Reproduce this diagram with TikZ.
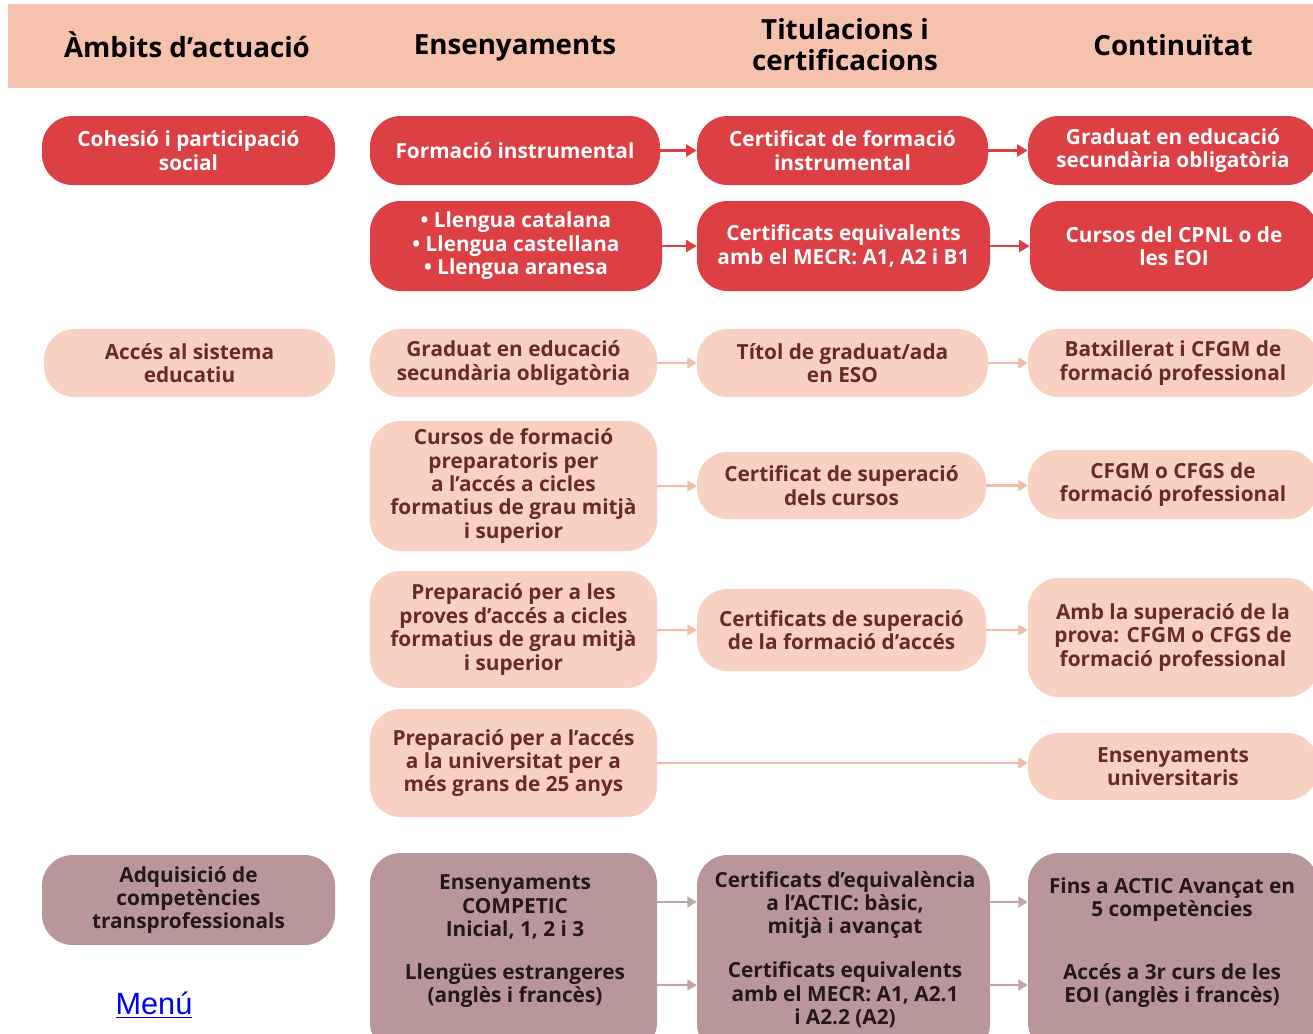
\documentclass[tikz,border=0pt]{standalone}
\usepackage{fontspec}
\setmainfont{Open Sans}
\newfontfamily\linkfont{Liberation Sans}
\usetikzlibrary{arrows.meta}
\definecolor{hdr}{HTML}{F6C2AE}
\definecolor{redf}{HTML}{DC3F44}
\definecolor{lightf}{HTML}{F9D1C3}
\definecolor{lighttxt}{HTML}{6A2A2B}
\definecolor{lightarr}{HTML}{F3BCA9}
\definecolor{mauvef}{HTML}{B99699}
\definecolor{mauvetxt}{HTML}{24181A}
\definecolor{mauvearr}{HTML}{C2A3A6}
\definecolor{linkblue}{HTML}{0000EE}
\begin{document}
\begin{tikzpicture}[x=0.75pt,y=-0.75pt,
  wh/.style 2 args={minimum width=#1*0.75pt, minimum height=#2*0.75pt},
  boxbase/.style={rounded corners=23pt, inner sep=0pt, align=center,
    font=\bfseries\fontsize{15.6}{17.6}\selectfont},
  redbox/.style={boxbase, fill=redf, text=white},
  lightbox/.style={boxbase, fill=lightf, text=lighttxt},
  mauvebox/.style={boxbase, fill=mauvef, text=mauvetxt},
  mtext/.style={align=center, inner sep=0pt, text=mauvetxt,
    font=\bfseries\fontsize{15.6}{17.6}\selectfont},
  hdrtext/.style={align=center, inner sep=0pt,
    font=\bfseries\fontsize{20.8}{23.2}\selectfont},
  redarrow/.style={draw=redf, line width=2.2pt, -{Triangle[length=8pt,width=9pt]}},
  lightarrow/.style={draw=lightarr, line width=1.6pt, -{Triangle[length=7pt,width=8pt]}},
  mauvearrow/.style={draw=mauvearr, line width=1.6pt, -{Triangle[length=7pt,width=8pt]}}
]
\useasboundingbox (0,0) rectangle (1313,1033);
\clip (0,0) rectangle (1313,1033);
\fill[white] (0,0) rectangle (1313,1033);

% header band
\fill[hdr] (8,4) rectangle (1313,88);
\node[hdrtext] (h1) at (187,45) {Àmbits d’actuació};
\node[hdrtext] (h2) at (515,47.5) {Ensenyaments};
\node[hdrtext] (h3) at (845,45) {Titulacions i\\certificacions};
\node[hdrtext] (h4) at (1173,45) {Continuïtat};

% row 1
\node[redbox, wh={293}{69}] (c1r1) at (188.5,150.5) {Cohesió i participació\\social};
\node[redbox, wh={290}{69}] (c2r1) at (515,150.5) {Formació instrumental};
\node[redbox, wh={291}{69}] (c3r1) at (842.5,150.5) {Certificat de formació\\instrumental};
\node[redbox, wh={290}{69}] (c4r1) at (1173,150.5) {Graduat en educació\\secundària obligatòria};
% row 2
\node[redbox, wh={292}{90}] (c2r2) at (516,246) {• Llengua catalana\\• Llengua castellana\\• Llengua aranesa};
\node[redbox, wh={293}{90}] (c3r2) at (843.5,246) {Certificats equivalents\\amb el MECR: A1, A2 i B1};
\node[redbox, wh={288}{90}] (c4r2) at (1174,246) {Cursos del CPNL o de\\les EOI};

% row 3
\node[lightbox, wh={291}{68}] (c1r3) at (189.5,363) {Accés al sistema\\educatiu};
\node[lightbox, wh={287}{68}] (c2r3) at (513.5,363) {Graduat en educació\\secundària obligatòria};
\node[lightbox, wh={291}{68}] (c3r3) at (842.5,363) {Títol de graduat/ada\\en ESO};
\node[lightbox, wh={290}{68}] (c4r3) at (1173,363) {Batxillerat i CFGM de\\formació professional};
% row 4
\node[lightbox, wh={287}{130}] (c2r4) at (513.5,486) {Cursos de formació\\preparatoris per\\a l’accés a cicles\\formatius de grau mitjà\\i superior};
\node[lightbox, wh={289}{67}] (c3r4) at (841.5,485.5) {Certificat de superació\\dels cursos};
\node[lightbox, wh={290}{69}] (c4r4) at (1173,484.5) {CFGM o CFGS de\\formació professional};
% row 5
\node[lightbox, wh={287}{117}] (c2r5) at (513.5,629.5) {Preparació per a les\\proves d’accés a cicles\\formatius de grau mitjà\\i superior};
\node[lightbox, wh={289}{82}] (c3r5) at (841.5,630) {Certificats de superació\\de la formació d’accés};
\node[lightbox, wh={290}{119}] (c4r5) at (1173,637.5) {Amb la superació de la\\prova: CFGM o CFGS de\\formació professional};
% row 6
\node[lightbox, wh={287}{108}] (c2r6) at (513.5,763) {Preparació per a l’accés\\a la universitat per a\\més grans de 25 anys};
\node[lightbox, wh={290}{67}] (c4r6) at (1173,766.5) {Ensenyaments\\universitaris};

% row 7
\node[mauvebox, wh={293}{90}] (c1r7) at (188.5,900) {Adquisició de\\competències\\transprofessionals};
\node[mauvebox, wh={287}{200}] (c2r7) at (513.5,953) {};
\node[mauvebox, wh={293}{200}] (c3r7) at (843.5,955) {};
\node[mauvebox, wh={290}{200}] (c4r7) at (1173,953) {};
\node[mtext] (t2a) at (515,907) {Ensenyaments\\COMPETIC\\Inicial, 1, 2 i 3};
\node[mtext] (t2b) at (515,985.5) {Llengües estrangeres\\(anglès i francès)};
\node[mtext] (t3a) at (845,905) {Certificats d’equivalència\\a l’ACTIC: bàsic,\\mitjà i avançat};
\node[mtext] (t3b) at (845,995) {Certificats equivalents\\amb el MECR: A1, A2.1\\i A2.2 (A2)};
\node[mtext] (t4a) at (1172,899.5) {Fins a ACTIC Avançat en\\5 competències};
\node[mtext] (t4b) at (1172,985.5) {Accés a 3r curs de les\\EOI (anglès i francès)};
\coordinate (ya) at (0,902);
\coordinate (yb) at (0,985);

% arrows
\draw[redarrow] (c2r1.east) -- (c3r1.west);
\draw[redarrow] (c3r1.east) -- (c4r1.west);
\draw[redarrow] (c2r2.east) -- (c3r2.west);
\draw[redarrow] (c3r2.east) -- (c4r2.west);
\draw[lightarrow] (c2r3.east) -- (c3r3.west);
\draw[lightarrow] (c3r3.east) -- (c4r3.west);
\draw[lightarrow] (c2r4.east) -- (c3r4.west |- c2r4.east);
\draw[lightarrow] (c3r4.east) -- (c4r4.west |- c3r4.east);
\draw[lightarrow] (c2r5.east |- c3r5.west) -- (c3r5.west);
\draw[lightarrow] (c3r5.east) -- (c4r5.west |- c3r5.east);
\draw[lightarrow] (c2r6.east) -- (c4r6.west |- c2r6.east);
\draw[mauvearrow] (c2r7.east |- ya) -- (c3r7.west |- ya);
\draw[mauvearrow] (c3r7.east |- ya) -- (c4r7.west |- ya);
\draw[mauvearrow] (c2r7.east |- yb) -- (c3r7.west |- yb);
\draw[mauvearrow] (c3r7.east |- yb) -- (c4r7.west |- yb);

% link
\node[inner sep=0pt, text=linkblue, font=\linkfont\fontsize{23}{26}\selectfont] (menu) at (154,1005) {\underline{Menú}};
\end{tikzpicture}
\end{document}
